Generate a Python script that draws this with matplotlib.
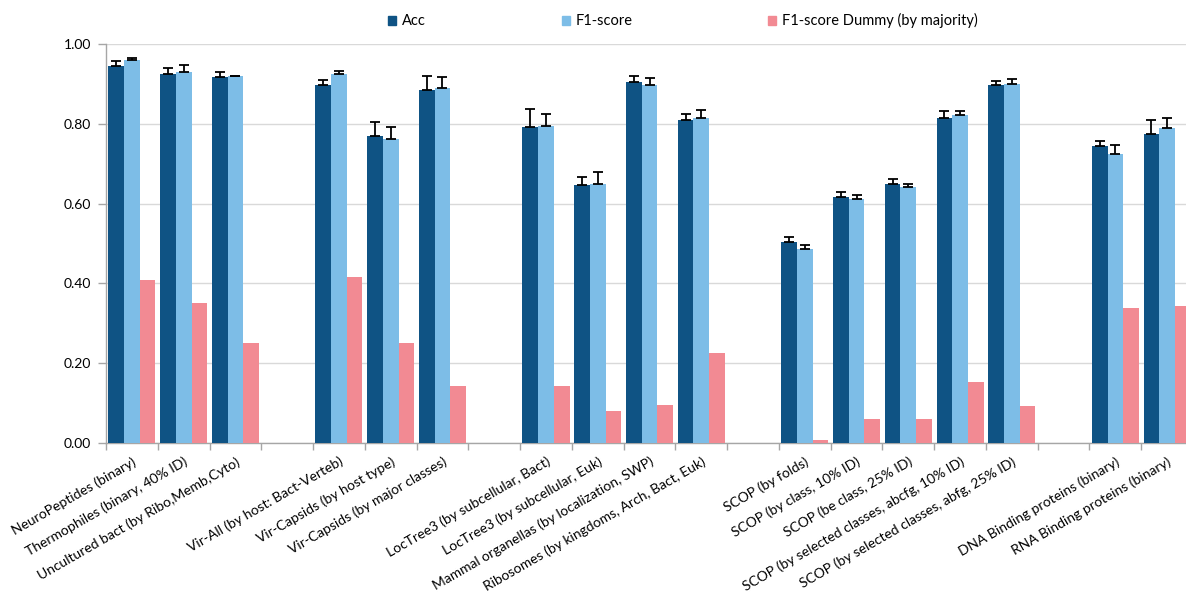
import matplotlib.pyplot as plt
import numpy as np
from matplotlib.patches import Patch

plt.rcParams['font.family'] = ['Lato', 'DejaVu Sans']

categories = [
    'NeuroPeptides (binary)',
    'Thermophiles (binary, 40% ID)',
    'Uncultured bact (by Ribo,Memb,Cyto)',
    'Vir-All (by host: Bact-Verteb)',
    'Vir-Capsids (by host type)',
    'Vir-Capsids (by major classes)',
    'LocTree3 (by subcellular, Bact)',
    'LocTree3 (by subcellular, Euk)',
    'Mammal organellas (by localization, SWP)',
    'Ribosomes (by kingdoms, Arch, Bact, Euk)',
    'SCOP (by folds)',
    'SCOP (by class, 10% ID)',
    'SCOP (be class, 25% ID)',
    'SCOP (by selected classes, abcfg, 10% ID)',
    'SCOP (by selected classes, abfg, 25% ID)',
    'DNA Binding proteins (binary)',
    'RNA Binding proteins (binary)',
]
group_ids = [0, 0, 0, 1, 1, 1, 2, 2, 2, 2, 3, 3, 3, 3, 3, 4, 4]

acc = [0.946, 0.925, 0.919, 0.898, 0.771, 0.884, 0.792, 0.647, 0.905,
       0.810, 0.503, 0.616, 0.650, 0.816, 0.899, 0.744, 0.776]
acc_err = [0.012, 0.016, 0.012, 0.012, 0.035, 0.037, 0.046, 0.019, 0.016,
           0.015, 0.014, 0.012, 0.013, 0.016, 0.008, 0.014, 0.033]
f1 = [0.960, 0.930, 0.920, 0.925, 0.762, 0.890, 0.794, 0.649, 0.899,
      0.815, 0.487, 0.611, 0.641, 0.822, 0.900, 0.725, 0.791]
f1_err = [0.006, 0.017, 0.001, 0.008, 0.031, 0.027, 0.030, 0.031, 0.016,
          0.019, 0.010, 0.010, 0.009, 0.010, 0.013, 0.021, 0.024]
dummy = [0.408, 0.351, 0.249, 0.415, 0.250, 0.143, 0.143, 0.080, 0.095,
         0.224, 0.006, 0.059, 0.059, 0.153, 0.092, 0.337, 0.342]

c_acc = '#0F5384'
c_f1 = '#7DBDE7'
c_dummy = '#F28A93'
grey = '#A6A6A6'

# one empty slot between groups
x = np.arange(len(categories)) + np.array(group_ids) + 0.5
n_slots = len(categories) + group_ids[-1]
w = 0.303

fig = plt.figure(figsize=(11.86, 5.95), dpi=100)
ax = fig.add_axes([0.0894, 0.256, 0.9165, 0.6696])

zeros = np.zeros(len(categories))
ax.bar(x - w, acc, w, color=c_acc, zorder=3, label='Acc')
ax.bar(x, f1, w, color=c_f1, zorder=3, label='F1-score')
ax.bar(x + w, dummy, w, color=c_dummy, zorder=3, label='F1-score Dummy (by majority)')
ax.errorbar(x - w, acc, yerr=[zeros, acc_err], fmt='none', ecolor='black',
            elinewidth=1.3, capsize=3.5, capthick=1.3, zorder=4)
ax.errorbar(x, f1, yerr=[zeros, f1_err], fmt='none', ecolor='black',
            elinewidth=1.3, capsize=3.5, capthick=1.3, zorder=4)

ax.set_xlim(0, n_slots)
ax.set_ylim(0, 1.0)
ax.set_yticks(np.arange(0, 1.01, 0.2))
ax.set_yticklabels([f'{v:.2f}' for v in np.arange(0, 1.01, 0.2)], fontsize=10)
ax.yaxis.grid(True, color='#D9D9D9', linewidth=1, zorder=0)
ax.set_axisbelow(True)

ax.set_xticks(x)
ax.set_xticklabels(categories, fontsize=10, rotation=30, ha='right',
                   rotation_mode='anchor')
ax.set_xticks(np.arange(0, n_slots + 1), minor=True)
ax.tick_params(axis='x', which='major', length=0, pad=9)
ax.tick_params(axis='x', which='minor', length=5, color=grey, width=1)
ax.tick_params(axis='y', length=6, color=grey, width=1, pad=5)

for s in ['top', 'right']:
    ax.spines[s].set_visible(False)
for s in ['left', 'bottom']:
    ax.spines[s].set_color(grey)
    ax.spines[s].set_linewidth(1)

handles = [Patch(color=c_acc), Patch(color=c_f1), Patch(color=c_dummy)]
labels = ['Acc', 'F1-score', 'F1-score Dummy (by majority)']
fig.legend(handles, labels, loc='center', bbox_to_anchor=(0.576, 0.965),
           ncol=3, frameon=False, fontsize=10.5, handlelength=0.55,
           handleheight=0.55, handletextpad=0.4, columnspacing=9.3)

fig.savefig('out.png', dpi=100)
